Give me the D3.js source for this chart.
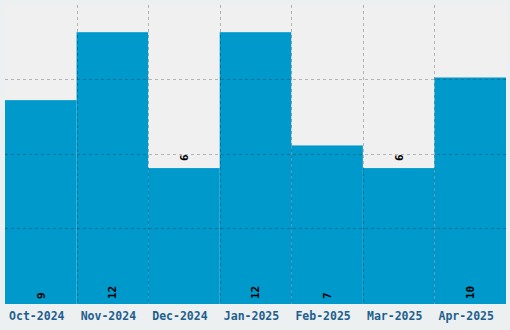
<!DOCTYPE html>
<html>
<head>
<meta charset="utf-8">
<script src="https://cdn.jsdelivr.net/npm/d3@7"></script>
<style>
  body { margin: 0; background: #edf0f1; }
  svg { display: block; }
</style>
</head>
<body>
<div id="chart"></div>
<script>
// data
const months = ["Oct-2024", "Nov-2024", "Dec-2024", "Jan-2025", "Feb-2025", "Mar-2025", "Apr-2025"];
const counts = [9, 12, 6, 12, 7, 6, 10];

const margin = { top: 5, right: 4, bottom: 26, left: 5 };
const outerWidth = 510;
const outerHeight = 330;
const width = outerWidth - margin.left - margin.right;
const height = outerHeight - margin.top - margin.bottom;

const svg = d3.select("#chart").append("svg")
    .attr("width", outerWidth)
    .attr("height", outerHeight);

const g = svg.append("g")
    .attr("transform", `translate(${margin.left}, ${margin.top})`);

const data = months.map((m, i) => ({ month: m, value: counts[i] }));

// scales
const x = d3.scaleBand()
    .domain(months)
    .range([0, width])
    .padding(0);

const y = d3.scaleLinear()
    .domain([0, d3.max(counts) * 1.1])
    .range([height, 0]);

g.append("rect")
    .attr("width", width)
    .attr("height", height)
    .attr("fill", "#f0f0f0");

// bars
g.selectAll("rect.bar")
    .data(data)
    .enter()
    .append("rect")
    .attr("class", "bar")
    .attr("x", d => x(d.month))
    .attr("y", d => y(d.value))
    .attr("width", x.bandwidth())
    .attr("height", d => height - y(d.value))
    .attr("fill", "#0099cc");

// grid (4 equal rows, one column per band)
const grid = g.append("g")
    .attr("stroke", "rgba(0,0,0,0.25)")
    .attr("stroke-dasharray", "3,3");

d3.range(1, 4).forEach(i => {
    const yy = Math.round(height * i / 4) - 0.5;
    grid.append("line")
        .attr("x1", 0).attr("x2", width)
        .attr("y1", yy).attr("y2", yy);
});

months.slice(1).forEach(m => {
    const xx = Math.round(x(m)) + 0.5;
    grid.append("line")
        .attr("x1", xx).attr("x2", xx)
        .attr("y1", 0).attr("y2", height);
});

// value labels, smallest bars get theirs above the bar
const minVal = d3.min(counts);
g.selectAll("text.val")
    .data(data)
    .enter()
    .append("text")
    .attr("class", "val")
    .attr("transform", d => {
        const cx = x(d.month) + x.bandwidth() / 2;
        const cy = d.value === minVal ? y(d.value) - 7 : height - 5;
        return `translate(${cx}, ${cy}) rotate(-90)`;
    })
    .attr("dy", "0.35em")
    .attr("text-anchor", "start")
    .style("font-family", "'DejaVu Sans Mono', monospace")
    .style("font-weight", "bold")
    .style("font-size", "11px")
    .attr("fill", "#000")
    .text(d => d.value);

// x axis
g.append("g")
    .attr("transform", `translate(0, ${height})`)
    .call(d3.axisBottom(x).tickSize(0).tickPadding(8))
    .call(a => a.select(".domain").remove())
    .selectAll("text")
    .attr("dx", -4)
    .style("font-family", "'DejaVu Sans Mono', monospace")
    .style("font-weight", "bold")
    .style("font-size", "11.5px")
    .attr("fill", "#1d5f8e");
</script>
</body>
</html>
